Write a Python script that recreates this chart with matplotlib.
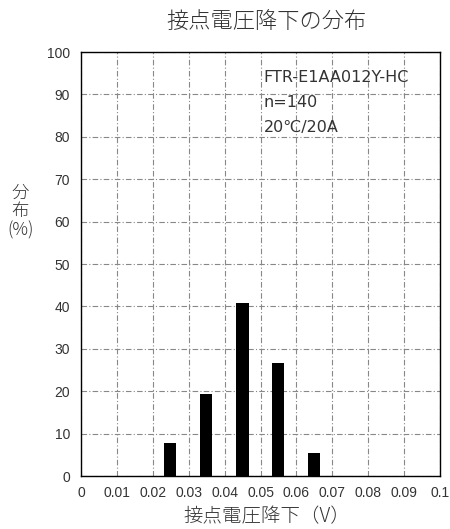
import matplotlib
matplotlib.use("Agg")
import matplotlib.pyplot as plt

# ==========================
# DATA
# ==========================
bin_centers = [0.0248, 0.0347, 0.0450, 0.0549, 0.0648]
percent = [7.9, 19.3, 40.7, 26.6, 5.4]

x_ticks = [0, 0.01, 0.02, 0.03, 0.04, 0.05, 0.06, 0.07, 0.08, 0.09, 0.1]
x_tick_labels = ["0", "0.01", "0.02", "0.03", "0.04", "0.05", "0.06", "0.07", "0.08", "0.09", "0.1"]
y_ticks = list(range(0, 101, 10))

info_lines = ["FTR-E1AA012Y-HC", "n=140", "20℃/20A"]

jp_font = ["Noto Sans CJK JP", "DejaVu Sans"]
info_font = ["DejaVu Sans", "Noto Sans CJK JP"]

# ==========================
# PLOT
# ==========================
fig = plt.figure(figsize=(4.5, 5.29), dpi=100)
ax = fig.add_axes([0.18, 0.1, 0.798, 0.8017])

ax.bar(bin_centers, percent, width=0.0034, color="black", zorder=3)

ax.set_xlim(0, 0.1)
ax.set_ylim(0, 100)
ax.set_xticks(x_ticks)
ax.set_xticklabels(x_tick_labels, family="Liberation Sans", fontsize=10, color="#333333")
ax.set_yticks(y_ticks)
ax.set_yticklabels([str(v) for v in y_ticks], family="Liberation Sans", fontsize=10, color="#333333")
ax.tick_params(length=0, pad=7)
ax.tick_params(axis="y", pad=8)

ax.grid(True, color="#888888", linewidth=0.8, linestyle=(0, (5, 2, 1, 2)), zorder=1)
for s in ax.spines.values():
    s.set_linewidth(1.0)
    s.set_color("black")

for i, line in enumerate(info_lines):
    ax.text(0.0508, 94.0 - i * 5.9, line, fontsize=11.5, family=info_font,
            va="center", ha="left", color="#333333", zorder=4)

fig.text(0.592, 0.958, "接点電圧降下の分布", family=jp_font, fontsize=16,
         fontweight="light", ha="center", va="center", color="#333333")
fig.text(0.594, 0.024, "接点電圧降下（V）", family=jp_font, fontsize=14,
         fontweight="light", ha="center", va="center", color="#333333")
fig.text(0.045, 0.6, "分\n布\n(%)", family=jp_font, fontsize=12.5,
         fontweight="light", ha="center", va="center", color="#333333", linespacing=1.05)

plt.savefig("out.png", dpi=100)
